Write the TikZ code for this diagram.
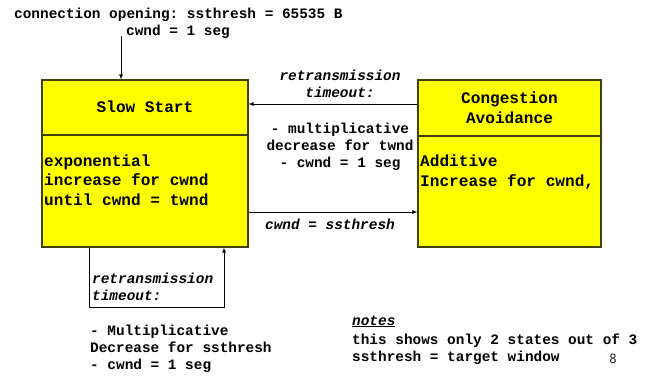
\documentclass[tikz,border=0pt]{standalone}
\usepackage{fontspec}
\setmainfont{Liberation Sans}
\setmonofont{Liberation Mono}
\usetikzlibrary{arrows.meta}
\definecolor{boxline}{RGB}{64,64,0}
\definecolor{boxfill}{RGB}{255,255,0}
\begin{document}
\begin{tikzpicture}[x=1pt,y=-1pt,
  txt/.style={font=\fontsize{14.4}{17}\selectfont\ttfamily\bfseries, inner sep=0pt},
  itxt/.style={font=\fontsize{14.4}{17}\selectfont\ttfamily\bfseries\itshape, inner sep=0pt},
  boxtxt/.style={font=\fontsize{16.1}{19.5}\selectfont\ttfamily\bfseries, inner sep=0pt},
  statebox/.style={draw=boxline, fill=boxfill, line width=1.2pt, rectangle, inner sep=0pt},
  arr/.style={draw=black, line width=0.8pt, -{Latex[length=5pt,width=4pt]}},
  divider/.style={draw=boxline, line width=1.2pt}]
\useasboundingbox (0,0) rectangle (657,376);

% state boxes
\node[statebox, minimum width=206pt, minimum height=167pt] (ss) at (145,163.5) {};
\node[statebox, minimum width=183pt, minimum height=167pt] (ca) at (509.5,163.5) {};
\draw[divider] (ss.west |- 0,135) -- (ss.east |- 0,135);
\draw[divider] (ca.west |- 0,136) -- (ca.east |- 0,136);

% box texts (multi-line nodes are placed by the baseline of their last line)
\node[boxtxt, anchor=base] (sstitle) at (145,112) {Slow Start};
\node[boxtxt, anchor=base west, align=left] (ssbody) at (44,205) {exponential\\increase for cwnd\\until cwnd = twnd};
\node[boxtxt, anchor=base, align=center] (catitle) at (509.5,123) {Congestion\\Avoidance};
\node[boxtxt, anchor=base west, align=left] (cabody) at (420,186) {Additive\\Increase for cwnd,};

% top text and arrow
\node[txt, anchor=base west] (open1) at (14,18) {connection opening: ssthresh = 65535 B};
\node[txt, anchor=base west] (open2) at (126,35) {cwnd = 1 seg};
\coordinate (startpt) at (121,36);
\draw[arr] (startpt) -- (ss.north -| startpt);

% CA -> SS
\draw[arr] (ca.west |- 0,104) -- (ss.east |- 0,104);
\node[itxt, anchor=base, align=center] (rto1) at (340,97) {retransmission\\timeout:};
\node[txt, anchor=base, align=center] (md1) at (340,167) {- multiplicative\\decrease for twnd\\- cwnd = 1 seg};

% SS -> CA
\draw[arr] (ss.east |- 0,212) -- (ca.west |- 0,212);
\node[itxt, anchor=base west] (cwss) at (265,229) {cwnd = ssthresh};

% self loop on SS
\coordinate (loopa) at (89,307);
\coordinate (loopb) at (224,307);
\draw[arr] (ss.south -| loopa) -- (loopa) -- (loopb) -- (ss.south -| loopb);
\node[itxt, anchor=base west, align=left] (rto2) at (92,300) {retransmission\\timeout:};
\node[txt, anchor=base west, align=left] (md2) at (90,369) {- Multiplicative\\Decrease for ssthresh\\- cwnd = 1 seg};

% notes
\node[itxt, anchor=base west] (notes) at (352,325) {\underline{notes}};
\node[txt, anchor=base west, align=left] (notetxt) at (352,361) {this shows only 2 states out of 3\\ssthresh = target window};
\node[font=\fontsize{14}{16}\selectfont\sffamily, inner sep=0pt, anchor=base] (pg) at (613,363) {8};
\end{tikzpicture}
\end{document}
